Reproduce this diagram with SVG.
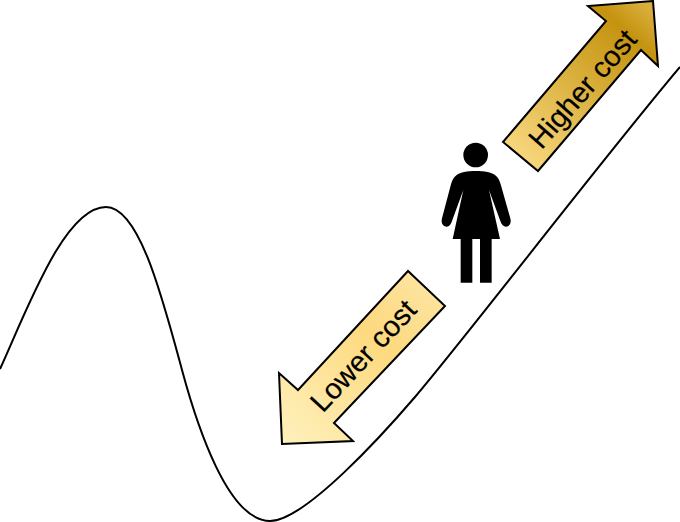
<svg xmlns="http://www.w3.org/2000/svg" width="680" height="522" viewBox="0 0 680 522">
<defs>
<linearGradient id="hi" gradientUnits="userSpaceOnUse" x1="510" y1="165" x2="650" y2="10"><stop offset="0" stop-color="#fbdc85"/><stop offset="0.85" stop-color="#c4930f"/><stop offset="1" stop-color="#d9ae3c"/></linearGradient>
<linearGradient id="lo" gradientUnits="userSpaceOnUse" x1="285" y1="440" x2="430" y2="285"><stop offset="0" stop-color="#fef0bb"/><stop offset="0.65" stop-color="#fdd97f"/><stop offset="1" stop-color="#fde4a0"/></linearGradient>
<style>
.arrow{stroke:#000;stroke-width:2;stroke-linejoin:miter}
.lbl{font-family:"Liberation Sans",Arial,sans-serif;font-size:29px;fill:#000;stroke:#000;stroke-width:.2;text-anchor:middle}
</style>
</defs>
<g id="connectors">
<path id="curve" d="M0,369 C27.9,307.7 64.8,207 106,207 C139,207 162,296 182,370 C197,425.5 228,521 270,521 C305,521 385,432 415,397 C465,338.5 600,162 680,67" fill="none" stroke="#000" stroke-width="2"/>
</g>
<g id="higher-cost">
<polygon class="arrow" fill="url(#hi)" points="503,142 606,21 588,6 653,1 658,66 641,50 538,171"/>
<text class="lbl" transform="translate(590 95.5) rotate(-48.7)">Higher cost</text>
</g>
<g id="lower-cost">
<polygon class="arrow" fill="url(#lo)" points="408,271 298,390 279,373 282,444 353,441 334,423 445,306"/>
<text class="lbl" transform="translate(370.5 362.5) rotate(-47)">Lower cost</text>
</g>
<g id="person" transform="translate(430 135) scale(.3333)">
<circle cx="137" cy="60" r="37" fill="#000"/>
<path fill="#000" d="M137,108 C110,108 92,112 80,120 C70,127 66,137 63,148 L36,250 C32,265 40,275 50,275 C58,275 63,268 66,258 L100,165 L68,312 L92,312 L92,443 L127,443 L127,312 L150,312 L150,443 L185,443 L185,312 L210,312 L177,165 L211,258 C214,268 220,275 228,275 C238,275 245,265 241,250 L212,148 C209,137 205,127 195,120 C183,112 165,108 137,108 Z"/>
</g>
</svg>
